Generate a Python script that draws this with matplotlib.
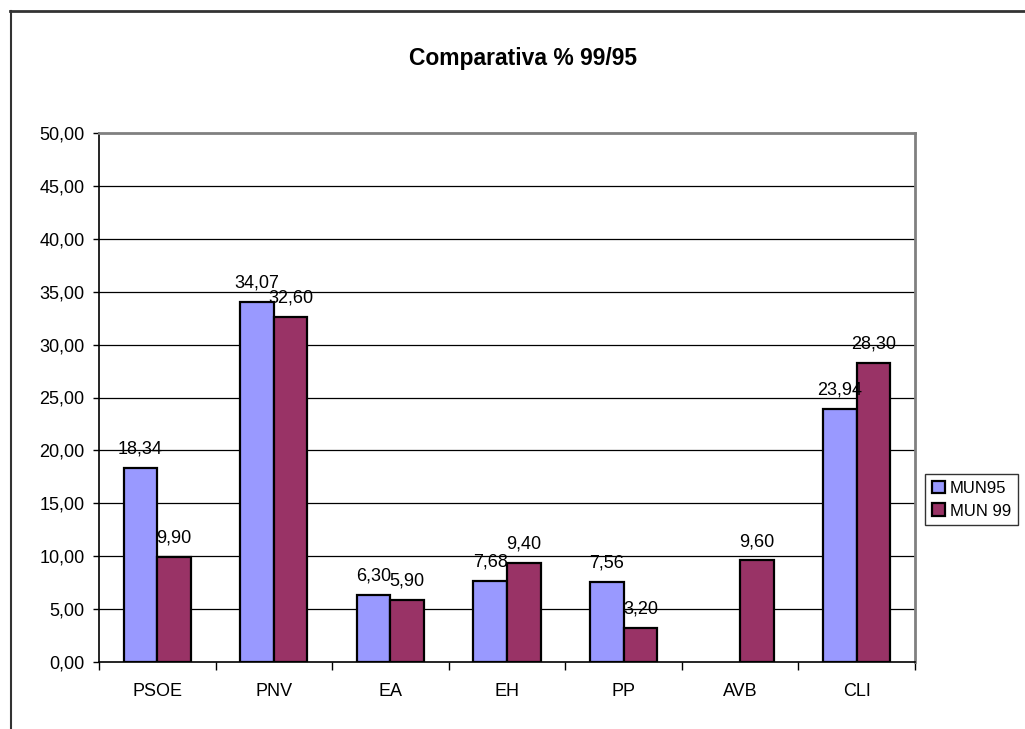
import matplotlib
matplotlib.use("Agg")
import matplotlib.pyplot as plt
from matplotlib.lines import Line2D
import numpy as np

plt.rcParams['font.family'] = ['Liberation Sans', 'DejaVu Sans']

categories = ["PSOE", "PNV", "EA", "EH", "PP", "AVB", "CLI"]
mun95 = [18.34, 34.07, 6.30, 7.68, 7.56, np.nan, 23.94]
mun99 = [9.90, 32.60, 5.90, 9.40, 3.20, 9.60, 28.30]
series_names = ["MUN95", "MUN 99"]
yticks = [0, 5, 10, 15, 20, 25, 30, 35, 40, 45, 50]
title = "Comparativa % 99/95"

fig = plt.figure(figsize=(10.25, 7.29), dpi=100)
ax = fig.add_axes([99/1025, 1-662/729, (915-99)/1025, (662-133)/729])

x = np.arange(len(categories))
w = 0.288
b1 = ax.bar(x - w/2, mun95, w, color="#9999FF", edgecolor="black", linewidth=1.6, label=series_names[0], zorder=3)
b2 = ax.bar(x + w/2, mun99, w, color="#993366", edgecolor="black", linewidth=1.6, label=series_names[1], zorder=3)

def fmt(v):
    return f"{v:.2f}".replace(".", ",")

for bars, vals in ((b1, mun95), (b2, mun99)):
    for rect, v in zip(bars, vals):
        if np.isnan(v):
            continue
        ax.annotate(fmt(v), (rect.get_x() + rect.get_width()/2, v), xytext=(0, 7.5),
                    textcoords="offset points", ha="center", va="bottom", fontsize=13, zorder=4)

ax.set_xlim(-0.5, len(categories) - 0.5)
ax.set_ylim(0, 50)
ax.set_yticks(yticks)
ax.set_yticklabels([fmt(v) for v in yticks], fontsize=13)
ax.tick_params(axis="y", length=4, width=1, pad=6.5, color="black")
ax.set_xticks(x)
ax.set_xticklabels(categories, fontsize=13)
ax.tick_params(axis="x", which="major", length=0, pad=15)
ax.set_xticks(np.arange(-0.5, len(categories), 1), minor=True)
ax.tick_params(axis="x", which="minor", length=6, width=1, color="black")

for yv in yticks[1:-1]:
    ax.axhline(yv, color="black", linewidth=0.9, zorder=1)

ax.spines["top"].set_color("#808080")
ax.spines["right"].set_color("#808080")
ax.spines["top"].set_linewidth(2)
ax.spines["right"].set_linewidth(2)
ax.spines["left"].set_color("black")
ax.spines["bottom"].set_color("black")
ax.spines["left"].set_linewidth(1.2)
ax.spines["bottom"].set_linewidth(1.2)

fig.text(523/1025, 1-58/729, title, ha="center", va="center", fontsize=16.5, fontweight="bold")

leg = fig.legend(handles=[b1, b2], labels=series_names, loc="upper left",
                 bbox_to_anchor=(925/1025, 1-474/729), fontsize=12, frameon=True,
                 fancybox=False, edgecolor="black", handlelength=0.8, handleheight=0.8,
                 handletextpad=0.3, borderpad=0.4, labelspacing=0.45, borderaxespad=0)
leg.get_frame().set_linewidth(1.0)

# outer chart border (partially visible)
fig.add_artist(Line2D([10/1025, 1.0], [1-11/729, 1-11/729], transform=fig.transFigure, color="#333333", linewidth=2))
fig.add_artist(Line2D([11/1025, 11/1025], [1-11/729, 0], transform=fig.transFigure, color="#333333", linewidth=1.5))

fig.savefig("out.png", dpi=100)
